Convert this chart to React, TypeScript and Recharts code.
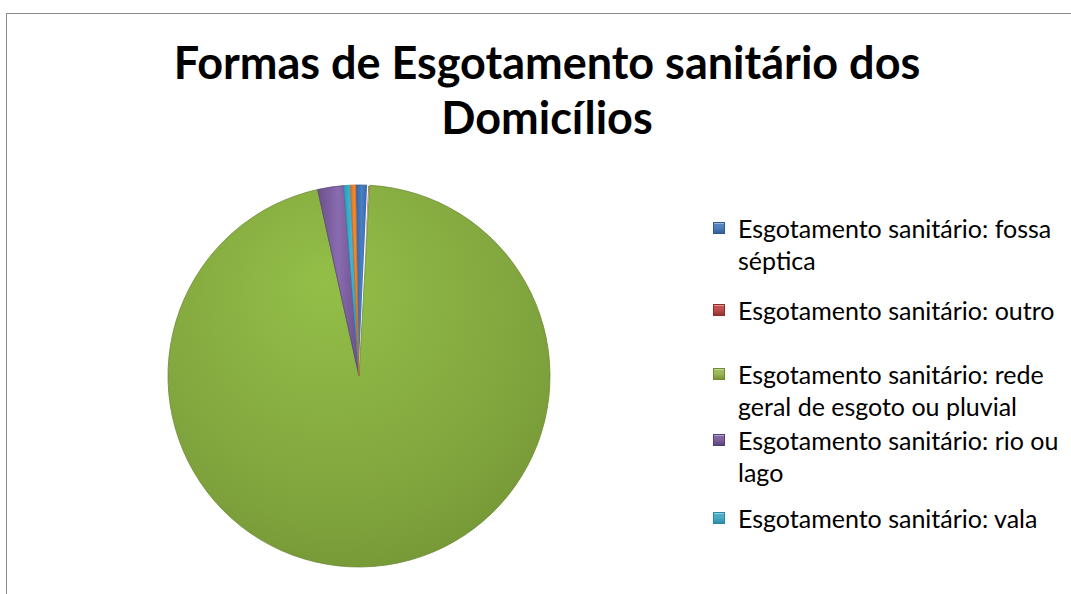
import { PieChart, Pie, Cell } from 'recharts';

// share of households (%) per sewage type
const categories = [
  'Esgotamento sanitário: fossa séptica',
  'Esgotamento sanitário: outro',
  'Esgotamento sanitário: rede geral de esgoto ou pluvial',
  'Esgotamento sanitário: rio ou lago',
  'Esgotamento sanitário: vala',
  'Sem legenda',
];
const values = [1.0, 0.17, 95.7, 2.2, 0.58, 0.42];

// legend text as it wraps in the original
const legendLines = [
  ['Esgotamento sanitário: fossa', 'séptica'],
  ['Esgotamento sanitário: outro'],
  ['Esgotamento sanitário: rede', 'geral de esgoto ou pluvial'],
  ['Esgotamento sanitário: rio ou', 'lago'],
  ['Esgotamento sanitário: vala'],
];

const sliceFills = ['url(#gBlue)', '#C0504D', 'url(#gGreen)', 'url(#gPurple)', 'url(#gCyan)', 'url(#gOrange)'];
const sliceStrokes = ['#3a5f8c', '#ffffff', '#6d8a35', '#5c4778', '#37869b', '#c06e2c'];
const legendColors = ['#4F81BD', '#C0504D', '#9BBB59', '#8064A2', '#4BACC6'];
const legendDark = ['#2c5a92', '#8e2e2b', '#6f8c33', '#553d78', '#2a8aa3'];
const legendTops = [212, 294, 358, 424, 502];

const data = categories.map((name, i) => ({ name, value: values[i] }));

const FONT = 'Lato, Carlito, Calibri, "Open Sans", sans-serif';

export default function App() {
  return (
    <div style={{ position: 'absolute', left: 0, top: 0, width: 1071, height: 594, background: '#fff', overflow: 'hidden', fontFamily: FONT }}>
      <div style={{ position: 'absolute', left: 6, top: 13, width: 1100, height: 600, border: '1px solid #8c8c8c', boxSizing: 'border-box' }} />

      <div style={{ position: 'absolute', left: 47, top: 35, width: 1000, textAlign: 'center', fontWeight: 700, fontSize: 45, lineHeight: '55px', color: '#000' }}>
        Formas de Esgotamento sanitário dos
        <br />
        Domicílios
      </div>

      <div style={{ position: 'absolute', left: 0, top: 0 }}>
        <PieChart width={1071} height={594} margin={{ top: 0, right: 0, bottom: 0, left: 0 }}>
          <defs>
            <radialGradient id="gGreen" cx="45%" cy="35%" r="70%" fx="40%" fy="25%">
              <stop offset="0%" stopColor="#93bf48" />
              <stop offset="70%" stopColor="#82a63e" />
              <stop offset="95%" stopColor="#779a38" />
              <stop offset="100%" stopColor="#5f7d2a" />
            </radialGradient>
            <linearGradient id="gPurple" x1="0" y1="0" x2="1" y2="0">
              <stop offset="0%" stopColor="#6a4f8c" />
              <stop offset="50%" stopColor="#8a6cb0" />
              <stop offset="100%" stopColor="#6a4f8c" />
            </linearGradient>
            <linearGradient id="gBlue" x1="0" y1="0" x2="1" y2="0">
              <stop offset="0%" stopColor="#2f64a8" />
              <stop offset="50%" stopColor="#4a7fc4" />
              <stop offset="100%" stopColor="#2f64a8" />
            </linearGradient>
            <linearGradient id="gCyan" x1="0" y1="0" x2="1" y2="0">
              <stop offset="0%" stopColor="#2a9cbc" />
              <stop offset="50%" stopColor="#43b4d4" />
              <stop offset="100%" stopColor="#2a9cbc" />
            </linearGradient>
            <linearGradient id="gOrange" x1="0" y1="0" x2="1" y2="0">
              <stop offset="0%" stopColor="#e0731c" />
              <stop offset="50%" stopColor="#f58a2e" />
              <stop offset="100%" stopColor="#e0731c" />
            </linearGradient>
          </defs>
          <Pie
            data={data}
            dataKey="value"
            nameKey="name"
            cx={359}
            cy={376}
            outerRadius={191}
            startAngle={91}
            endAngle={-269}
            isAnimationActive={false}
            label={false}
            labelLine={false}
          >
            {data.map((d, i) => (
              <Cell key={d.name} fill={sliceFills[i]} stroke={sliceStrokes[i]} strokeWidth={i === 1 ? 1.2 : 0.8} />
            ))}
          </Pie>
        </PieChart>
      </div>

      {legendLines.map((lines, i) => (
        <div key={i} style={{ position: 'absolute', left: 713, top: legendTops[i], fontSize: 25, lineHeight: '32px', color: '#000', whiteSpace: 'nowrap' }}>
          <div
            style={{
              position: 'absolute',
              left: 0,
              top: 10,
              width: 12,
              height: 12,
              background: `linear-gradient(180deg, ${legendColors[i]} 0%, ${legendColors[i]} 45%, ${legendDark[i]} 100%)`,
              boxShadow: `inset 0 0 0 1px ${legendDark[i]}, inset 0 2px 1px rgba(255,255,255,0.45)`,
            }}
          />
          <div style={{ marginLeft: 25 }}>
            {lines.map((t, j) => (
              <div key={j}>{t}</div>
            ))}
          </div>
        </div>
      ))}
    </div>
  );
}
